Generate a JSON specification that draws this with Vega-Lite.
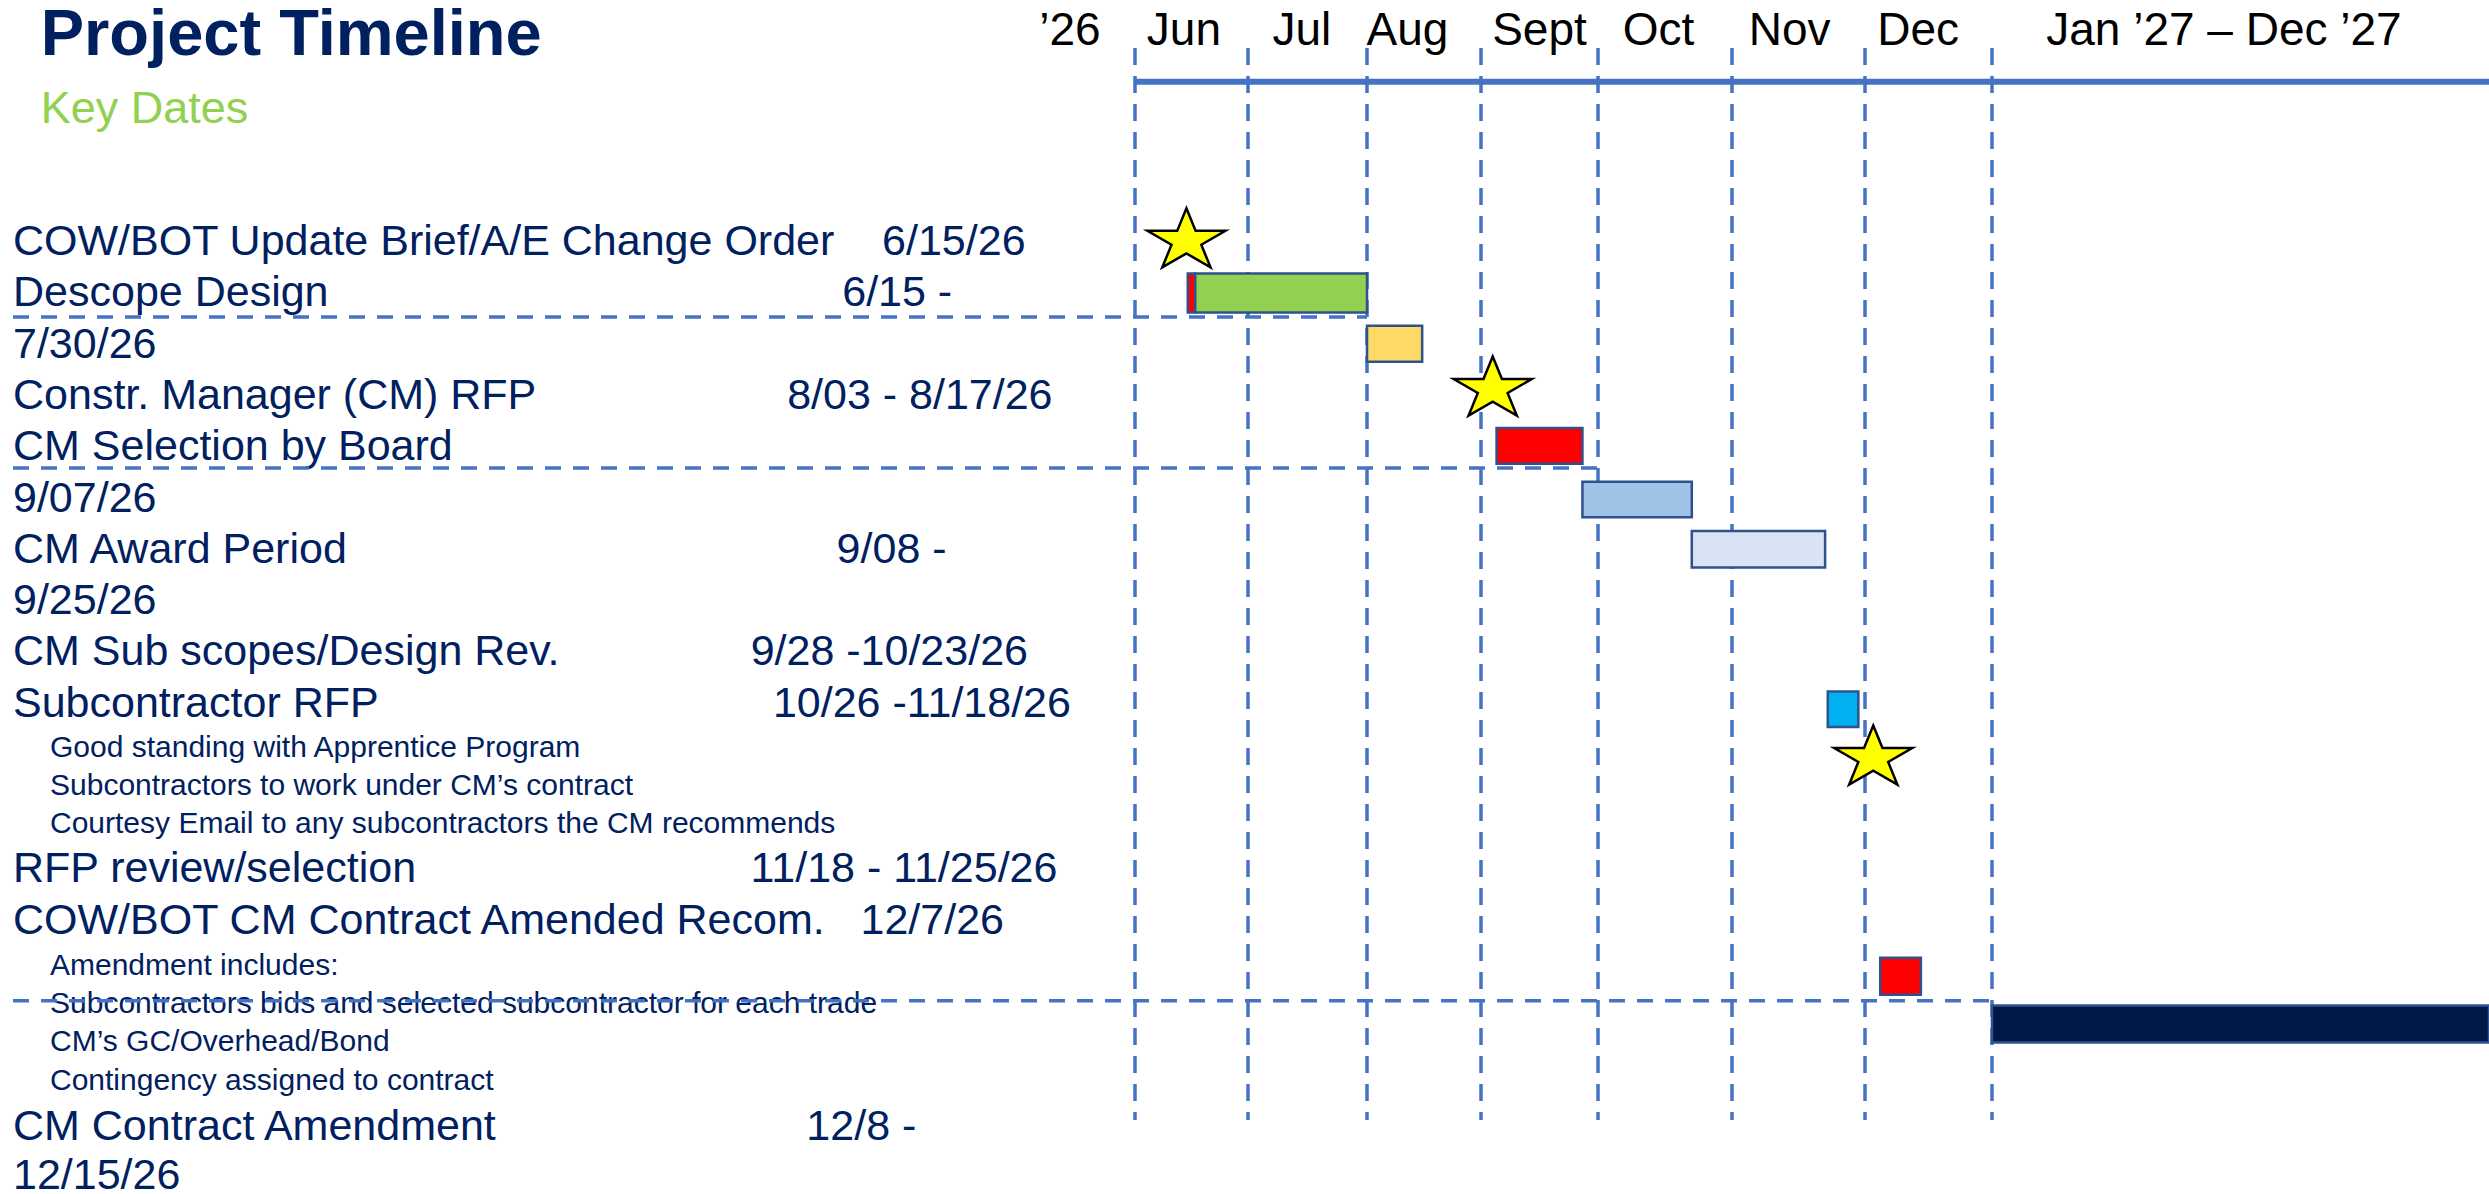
{
  "$schema": "https://vega.github.io/schema/vega-lite/v6.json",
  "width": 2489,
  "height": 1194,
  "autosize": "none",
  "padding": 0,
  "background": "white",
  "config": {"view": {"stroke": null}},
  "datasets": {
    "panel": [
      {"style": "title", "level": 0.749, "row": -2.899, "text": "Project Timeline"},
      {"style": "subtitle", "level": 0.749, "row": -1.573, "text": "Key Dates"},
      {"style": "task", "level": 0, "row": 1, "text": "COW/BOT Update Brief/A/E Change Order\u00a0\u00a0\u00a0\u00a06/15/26"},
      {"style": "task", "level": 0, "row": 2, "text": "Descope Design\u00a0\u00a0\u00a0\u00a0\u00a0\u00a0\u00a0\u00a0\u00a0\u00a0\u00a0\u00a0\u00a0\u00a0\u00a0\u00a0\u00a0\u00a0\u00a0\u00a0\u00a0\u00a0\u00a0\u00a0\u00a0\u00a0\u00a0\u00a0\u00a0\u00a0\u00a0\u00a0\u00a0\u00a0\u00a0\u00a0\u00a0\u00a0\u00a0\u00a0\u00a0\u00a0\u00a06/15 -"},
      {"style": "task", "level": 0, "row": 3, "text": "7/30/26"},
      {"style": "task", "level": 0, "row": 4, "text": "Constr. Manager (CM) RFP\u00a0\u00a0\u00a0\u00a0\u00a0\u00a0\u00a0\u00a0\u00a0\u00a0\u00a0\u00a0\u00a0\u00a0\u00a0\u00a0\u00a0\u00a0\u00a0\u00a0\u00a08/03 - 8/17/26"},
      {"style": "task", "level": 0, "row": 5, "text": "CM Selection by Board"},
      {"style": "task", "level": 0, "row": 6, "text": "9/07/26"},
      {"style": "task", "level": 0, "row": 7, "text": "CM Award Period\u00a0\u00a0\u00a0\u00a0\u00a0\u00a0\u00a0\u00a0\u00a0\u00a0\u00a0\u00a0\u00a0\u00a0\u00a0\u00a0\u00a0\u00a0\u00a0\u00a0\u00a0\u00a0\u00a0\u00a0\u00a0\u00a0\u00a0\u00a0\u00a0\u00a0\u00a0\u00a0\u00a0\u00a0\u00a0\u00a0\u00a0\u00a0\u00a0\u00a0\u00a09/08 -"},
      {"style": "task", "level": 0, "row": 8, "text": "9/25/26"},
      {"style": "task", "level": 0, "row": 9, "text": "CM Sub scopes/Design Rev.\u00a0\u00a0\u00a0\u00a0\u00a0\u00a0\u00a0\u00a0\u00a0\u00a0\u00a0\u00a0\u00a0\u00a0\u00a0\u00a09/28 -10/23/26"},
      {"style": "task", "level": 0, "row": 10, "text": "Subcontractor RFP\u00a0\u00a0\u00a0\u00a0\u00a0\u00a0\u00a0\u00a0\u00a0\u00a0\u00a0\u00a0\u00a0\u00a0\u00a0\u00a0\u00a0\u00a0\u00a0\u00a0\u00a0\u00a0\u00a0\u00a0\u00a0\u00a0\u00a0\u00a0\u00a0\u00a0\u00a0\u00a0\u00a010/26 -11/18/26"},
      {"style": "note", "level": 1, "row": 10.79, "text": "Good standing with Apprentice Program"},
      {"style": "note", "level": 1, "row": 11.53, "text": "Subcontractors to work under CM\u2019s contract"},
      {"style": "note", "level": 1, "row": 12.27, "text": "Courtesy Email to any subcontractors the CM recommends"},
      {"style": "task", "level": 0, "row": 13.22, "text": "RFP review/selection\u00a0\u00a0\u00a0\u00a0\u00a0\u00a0\u00a0\u00a0\u00a0\u00a0\u00a0\u00a0\u00a0\u00a0\u00a0\u00a0\u00a0\u00a0\u00a0\u00a0\u00a0\u00a0\u00a0\u00a0\u00a0\u00a0\u00a0\u00a011/18 - 11/25/26"},
      {"style": "task", "level": 0, "row": 14.24, "text": "COW/BOT CM Contract Amended Recom.\u00a0\u00a0\u00a012/7/26"},
      {"style": "note", "level": 1, "row": 15.04, "text": "Amendment includes:"},
      {"style": "note", "level": 1, "row": 15.78, "text": "Subcontractors bids and selected subcontractor for each trade"},
      {"style": "note", "level": 1, "row": 16.52, "text": "CM\u2019s GC/Overhead/Bond"},
      {"style": "note", "level": 1, "row": 17.28, "text": "Contingency assigned to contract"},
      {"style": "task", "level": 0, "row": 18.25, "text": "CM Contract Amendment\u00a0\u00a0\u00a0\u00a0\u00a0\u00a0\u00a0\u00a0\u00a0\u00a0\u00a0\u00a0\u00a0\u00a0\u00a0\u00a0\u00a0\u00a0\u00a0\u00a0\u00a0\u00a0\u00a0\u00a0\u00a0\u00a012/8 -"},
      {"style": "task", "level": 0, "row": 19.2, "text": "12/15/26"}
    ],
    "heads": [
      {"text": "\u201926", "month": 5.71, "row": -3.094},
      {"text": "Jun", "month": 6.433, "row": -3.094},
      {"text": "Jul", "month": 7.452, "row": -3.094},
      {"text": "Aug", "month": 8.355, "row": -3.094},
      {"text": "Sept", "month": 9.5, "row": -3.094},
      {"text": "Oct", "month": 10.452, "row": -3.094},
      {"text": "Nov", "month": 11.433, "row": -3.094},
      {"text": "Dec", "month": 12.419, "row": -3.094},
      {"text": "Jan \u201927 \u2013 Dec \u201927", "month": 18.6, "row": -3.094}
    ],
    "grid": [
      {"month": 6, "row": -3.035, "row2": 17.862},
      {"month": 7, "row": -3.035, "row2": 17.862},
      {"month": 8, "row": -3.035, "row2": 17.862},
      {"month": 9, "row": -3.035, "row2": 17.862},
      {"month": 10, "row": -3.035, "row2": 17.862},
      {"month": 11, "row": -3.035, "row2": 17.862},
      {"month": 12, "row": -3.035, "row2": 17.862},
      {"month": 13, "row": -3.035, "row2": 17.862}
    ],
    "seps": [
      {"month": 1, "month2": 8, "row": 2.209},
      {"month": 1, "month2": 10, "row": 5.15},
      {"month": 1, "month2": 13, "row": 15.535}
    ],
    "timeline": [
      {"month": 6, "month2": 25, "row": -2.378}
    ],
    "bars": [
      {"task": "COW/BOT Update Brief", "month": 6.467, "month2": 6.533, "row": 1.36, "row2": 2.12},
      {"task": "Descope Design", "month": 6.533, "month2": 8, "row": 1.36, "row2": 2.12},
      {"task": "Constr. Manager (CM) RFP", "month": 8, "month2": 8.484, "row": 2.38, "row2": 3.08},
      {"task": "CM Award Period", "month": 9.133, "month2": 9.867, "row": 4.37, "row2": 5.07},
      {"task": "CM Sub scopes/Design Rev.", "month": 9.867, "month2": 10.7, "row": 5.42, "row2": 6.11},
      {"task": "Subcontractor RFP", "month": 10.7, "month2": 11.7, "row": 6.38, "row2": 7.09},
      {"task": "RFP review/selection", "month": 11.72, "month2": 11.95, "row": 9.51, "row2": 10.2},
      {"task": "CM Contract Amendment", "month": 12.12, "month2": 12.44, "row": 14.7, "row2": 15.42},
      {"task": "Jan \u201927 \u2013 Dec \u201927", "month": 13, "month2": 25, "row": 15.63, "row2": 16.35}
    ],
    "stars": [
      {"event": "COW/BOT Update Brief", "month": 6.455, "row": 0.665},
      {"event": "CM Selection by Board", "month": 9.1, "row": 3.554},
      {"event": "COW/BOT CM Contract Amended Recom.", "month": 12.065, "row": 10.747}
    ]
  },
  "layer": [
    {
      "data": {"name": "panel"},
      "encoding": {
        "x": {"field": "level", "type": "quantitative", "scale": {"domain": [0, 1], "range": [13, 50], "nice": false, "zero": false}, "axis": null},
        "y": {"field": "row", "type": "quantitative", "scale": {"domain": [-3.9708, 19.3041], "reverse": true, "nice": false, "zero": false}, "axis": null},
        "text": {"field": "text", "type": "nominal"}
      },
      "layer": [
        {"transform": [{"filter": "datum.style === 'title'"}], "mark": {"type": "text", "align": "left", "baseline": "alphabetic", "font": "Liberation Sans", "fontSize": 65, "fontWeight": "bold", "color": "#002060"}},
        {"transform": [{"filter": "datum.style === 'subtitle'"}], "mark": {"type": "text", "align": "left", "baseline": "alphabetic", "font": "Liberation Sans", "fontSize": 45, "color": "#92D050"}},
        {"transform": [{"filter": "datum.style === 'task'"}], "mark": {"type": "text", "align": "left", "baseline": "alphabetic", "font": "Liberation Sans", "fontSize": 43, "color": "#002060"}},
        {"transform": [{"filter": "datum.style === 'note'"}], "mark": {"type": "text", "align": "left", "baseline": "alphabetic", "font": "Liberation Sans", "fontSize": 30, "color": "#002060"}}
      ]
    },
    {
      "encoding": {
        "x": {"field": "month", "type": "quantitative", "axis": null, "scale": {"type": "linear", "nice": false, "zero": false, "domain": [1, 6, 7, 8, 9, 10, 11, 12, 13, 25], "range": [13, 1135, 1248, 1367, 1481, 1598, 1732, 1865, 1992, 2489]}},
        "y": {"field": "row", "type": "quantitative", "scale": {"domain": [-3.9708, 19.3041], "reverse": true, "nice": false, "zero": false}, "axis": null}
      },
      "layer": [
        {
          "data": {"name": "grid"},
          "mark": {"type": "rule", "color": "#4472C4", "strokeWidth": 3.5, "strokeDash": [17, 11]},
          "encoding": {"y2": {"field": "row2"}}
        },
        {
          "data": {"name": "seps"},
          "mark": {"type": "rule", "color": "#4472C4", "strokeWidth": 3.5, "strokeDash": [16, 12]},
          "encoding": {"x2": {"field": "month2"}}
        },
        {
          "data": {"name": "timeline"},
          "mark": {"type": "rule", "color": "#4472C4", "strokeWidth": 6},
          "encoding": {"x2": {"field": "month2"}}
        },
        {
          "data": {"name": "heads"},
          "mark": {"type": "text", "align": "center", "baseline": "alphabetic", "font": "Liberation Sans", "fontSize": 46, "color": "#000000"},
          "encoding": {"text": {"field": "text", "type": "nominal"}}
        },
        {
          "data": {"name": "bars"},
          "mark": {"type": "rect", "stroke": "#2F528F", "strokeWidth": 2.5},
          "encoding": {
            "x2": {"field": "month2"},
            "y2": {"field": "row2"},
            "fill": {"field": "task", "type": "nominal", "legend": null, "scale": {"domain": ["COW/BOT Update Brief", "Descope Design", "Constr. Manager (CM) RFP", "CM Award Period", "CM Sub scopes/Design Rev.", "Subcontractor RFP", "RFP review/selection", "CM Contract Amendment", "Jan \u201927 \u2013 Dec \u201927"], "range": ["#FF0000", "#92D050", "#FFD966", "#FF0000", "#9DC3E6", "#DAE3F3", "#00B0F0", "#FF0000", "#001848"]}}
          }
        },
        {
          "data": {"name": "stars"},
          "mark": {"type": "point", "shape": "M0,-0.756L0.236,-0.178L1,-0.178L0.382,0.178L0.618,0.756L0,0.399L-0.618,0.756L-0.382,0.178L-1,-0.178L-0.236,-0.178Z", "size": 6084, "fill": "#FFFF00", "stroke": "#000000", "strokeWidth": 2.5, "opacity": 1, "fillOpacity": 1}
        }
      ]
    }
  ],
  "resolve": {"scale": {"x": "independent"}}
}
